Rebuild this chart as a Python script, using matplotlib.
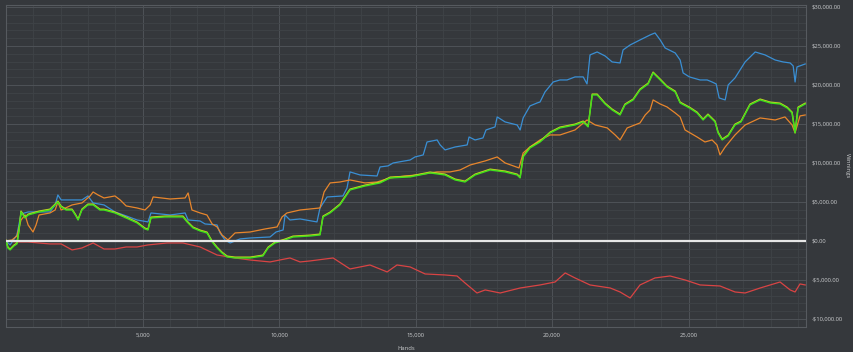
import matplotlib
matplotlib.use("Agg")
import matplotlib.pyplot as plt
from matplotlib.ticker import MultipleLocator, FixedLocator, FuncFormatter
from matplotlib.transforms import ScaledTranslation

plt.rcParams['font.family'] = ['Open Sans', 'DejaVu Sans']

# hands played / winnings in dollars
blue_hands = [0, 150, 400, 550, 810, 1210, 1610, 1800, 1900, 2020,
              2420, 2780, 3000, 3190, 3590, 3990, 4400, 4800, 5200, 5310,
              6010, 6560, 6670, 7110, 7290, 7730, 7840, 8020, 8210, 8570,
              8940, 9670, 9890, 10150, 10220, 10400, 10770, 11390, 11500, 11760,
              12340, 12490, 12600, 12970, 13590, 13700, 13990, 14180, 14800, 14980,
              15280, 15420, 15790, 15900, 16080, 16450, 16890, 16960, 17180, 17470,
              17580, 17910, 17990, 18280, 18720, 18830, 18940, 19190, 19450, 19560,
              19740, 20040, 20290, 20550, 20840, 21140, 21280, 21390, 21650, 21940,
              22200, 22490, 22600, 22860, 23220, 23590, 23770, 23960, 24140, 24510,
              24690, 24800, 25030, 25420, 25680, 25860, 26010, 26120, 26340, 26450,
              26700, 27070, 27440, 27800, 28170, 28460, 28720, 28830, 28900, 28970,
              29270]
blue_won = [0, -510, 770, 3460, 3720, 3720, 3720, 4620, 5900, 5260,
            5260, 5260, 5770, 4870, 4620, 3720, 3210, 2690, 2440, 3590,
            3330, 3590, 2690, 2560, 2180, 2050, 1030, 130, -260, 260,
            380, 510, 1150, 1410, 3330, 2690, 2820, 2440, 4230, 5640,
            5770, 6790, 8850, 8460, 8330, 9490, 9620, 10000, 10380, 10770,
            11030, 12690, 12950, 12310, 11670, 12050, 12310, 13330, 12950, 13210,
            14230, 14620, 15900, 15260, 14870, 14230, 15770, 17310, 17690, 17820,
            19100, 20380, 20640, 20640, 21030, 21030, 20130, 23850, 24230, 23720,
            22950, 22820, 24490, 25130, 25770, 26410, 26670, 25770, 24740, 24100,
            23200, 21540, 21030, 20640, 20640, 20380, 20130, 18330, 18080, 20000,
            20900, 22950, 24230, 23850, 23200, 22950, 22820, 22440, 20380, 22310,
            22690]

orange_hands = [0, 220, 400, 550, 700, 810, 990, 1100, 1210, 1610,
                1800, 1900, 2020, 2420, 2780, 3080, 3190, 3370, 3590, 3990,
                4180, 4400, 4800, 5090, 5280, 5390, 6010, 6560, 6670, 6810,
                7110, 7360, 7550, 7730, 7910, 8130, 8390, 8940, 9490, 9930,
                10110, 10290, 10770, 11500, 11650, 11870, 12230, 12600, 13150, 13590,
                14070, 14620, 15060, 15790, 16260, 16630, 17000, 17550, 17990, 18280,
                18790, 18940, 19190, 19560, 19930, 20290, 20840, 21280, 21580, 22020,
                22310, 22490, 22750, 23220, 23410, 23590, 23700, 23960, 24210, 24510,
                24690, 24870, 25310, 25600, 25860, 26040, 26150, 26340, 26700, 27070,
                27620, 28170, 28530, 28790, 28900, 29080, 29270]
orange_won = [0, 130, 640, 2690, 3330, 2050, 1150, 2050, 3330, 3590,
              3970, 5000, 3970, 4620, 4870, 5770, 6280, 5900, 5510, 5770,
              5260, 4490, 4230, 3970, 4620, 5640, 5380, 5510, 6150, 3970,
              3590, 3330, 2180, 1800, 770, 130, 1030, 1150, 1540, 1800,
              3080, 3590, 3970, 4230, 6280, 7440, 7560, 7820, 7440, 7560,
              8080, 8330, 8460, 8850, 8850, 9100, 9740, 10260, 10770, 10000,
              9360, 11280, 12050, 12950, 13590, 13590, 14230, 15510, 14870, 14490,
              13590, 12950, 14490, 15130, 16150, 16790, 18080, 17560, 17180, 16410,
              15900, 14230, 13330, 12690, 12950, 12310, 11030, 12050, 13590, 14870,
              15770, 15510, 15900, 14870, 13850, 16030, 16150]

green_hands = [0, 70, 150, 290, 400, 480, 550, 700, 810, 1210,
               1610, 1800, 1900, 2020, 2200, 2420, 2560, 2640, 2780, 3000,
               3190, 3440, 3590, 3990, 4400, 4800, 5090, 5200, 5310, 5820,
               6480, 6630, 6850, 7110, 7360, 7550, 7730, 7910, 8100, 8390,
               8940, 9410, 9600, 9850, 10220, 10510, 11140, 11500, 11610, 11870,
               12230, 12600, 13150, 13700, 14070, 14800, 15530, 16080, 16450, 16810,
               17180, 17730, 18280, 18720, 18830, 18940, 19190, 19560, 19930, 20290,
               20840, 21140, 21320, 21470, 21650, 21940, 22200, 22490, 22670, 22970,
               23220, 23520, 23700, 23960, 24210, 24510, 24690, 25030, 25310, 25530,
               25710, 25970, 26080, 26230, 26450, 26700, 26920, 27250, 27620, 27990,
               28350, 28610, 28790, 28900, 29010, 29270]
green_won = [0, -900, -1150, -640, -380, 1410, 3720, 2950, 3330, 3720,
             3970, 4620, 5000, 4360, 3970, 3970, 3210, 2690, 3970, 4620,
             4620, 3970, 3970, 3590, 2950, 2310, 1540, 1410, 2950, 3080,
             3080, 2440, 1670, 1280, 1030, -130, -900, -1540, -2050, -2180,
             -2180, -1920, -900, -260, 130, 510, 640, 770, 3080, 3590,
             4620, 6540, 7050, 7440, 8080, 8210, 8720, 8460, 7820, 7560,
             8460, 9100, 8850, 8460, 8080, 10770, 11920, 12690, 13850, 14490,
             14870, 15260, 14620, 18720, 18720, 17560, 16790, 16150, 17440, 18080,
             19360, 20130, 21540, 20640, 19740, 19100, 17690, 17050, 16410, 15510,
             16150, 15260, 13850, 12950, 13460, 14870, 15260, 17440, 18080, 17690,
             17560, 17050, 16410, 13850, 17050, 17560]

red_hands = [0, 400, 810, 1210, 1610, 2020, 2420, 2780, 3190, 3590,
             3990, 4400, 4800, 5200, 5900, 6480, 7110, 7730, 8390, 8940,
             9670, 10400, 10770, 11140, 11980, 12600, 13330, 13960, 14320, 14800,
             15350, 16080, 16520, 16810, 17250, 17550, 18100, 18830, 19560, 20110,
             20480, 20840, 21390, 22130, 22490, 22860, 23220, 23770, 24320, 24870,
             25420, 26150, 26700, 27070, 27620, 28350, 28720, 28900, 29080, 29270]
red_won = [0, -130, -130, -260, -380, -380, -1150, -900, -260, -1030,
           -1030, -770, -770, -510, -260, -260, -770, -1800, -2180, -2440,
           -2690, -2180, -2690, -2560, -2180, -3590, -3080, -3970, -3080, -3330,
           -4230, -4360, -4490, -5380, -6670, -6280, -6670, -6030, -5640, -5260,
           -4100, -4740, -5640, -6030, -6540, -7310, -5640, -4740, -4490, -5000,
           -5640, -5770, -6540, -6670, -6030, -5260, -6280, -6540, -5510, -5640]

x_ticks = [5000, 10000, 15000, 20000, 25000]
y_ticks = [-10000, -5000, 0, 5000, 10000, 15000, 20000, 25000, 30000]

bg = '#35383c'
txt = '#c9cbcd'

fig = plt.figure(figsize=(8.54, 3.52), dpi=100)
fig.patch.set_facecolor(bg)
ax = fig.add_axes([6 / 854, 25 / 352, 800 / 854, 322 / 352])
ax.set_facecolor(bg)

ax.plot(red_hands, red_won, color='#d94444', lw=0.9, zorder=3)
ax.plot(blue_hands, blue_won, color='#3a8fd4', lw=0.9, zorder=4)
ax.plot(orange_hands, orange_won, color='#e8862c', lw=0.9, zorder=5)
shift = ax.transData + ScaledTranslation(0, 0.8 / 100, fig.dpi_scale_trans)
ax.plot(green_hands, green_won, color='#c9d422', lw=1.0, zorder=6, transform=shift)
ax.plot(green_hands, green_won, color='#3fe01c', lw=1.0, zorder=7)
ax.axhline(0, color='#e6e6e6', lw=1.6, zorder=8)

ax.set_xlim(0, 29300)
ax.set_ylim(-11030, 30250)

ax.xaxis.set_major_locator(FixedLocator(x_ticks))
ax.xaxis.set_minor_locator(MultipleLocator(1000))
ax.yaxis.set_major_locator(FixedLocator(y_ticks))
ax.yaxis.set_minor_locator(MultipleLocator(1000))
ax.xaxis.set_major_formatter(FuncFormatter(lambda v, p: f'{v:,.0f}'))
ax.yaxis.set_major_formatter(FuncFormatter(
    lambda v, p: ('-' if v < 0 else '') + f'${abs(v):,.2f}'))
ax.yaxis.tick_right()
ax.yaxis.set_label_position('right')
ax.tick_params(which='both', length=0, colors=txt, labelsize=4.2)
ax.tick_params(axis='x', pad=4)
ax.tick_params(axis='y', pad=4)

ax.grid(which='major', color='#4e5257', lw=0.7)
ax.grid(which='minor', color='#3f4347', lw=0.6)
ax.set_axisbelow(True)
for s in ax.spines.values():
    s.set_color('#565a5f')
    s.set_linewidth(0.8)

ax.set_xlabel('Hands', color=txt, fontsize=4.2, labelpad=6)
ax.set_ylabel('Winnings', color=txt, fontsize=4.2, rotation=270, va='center')
ax.yaxis.set_label_coords(1.052, 0.5)

fig.savefig('out.png', dpi=100, facecolor=bg)
